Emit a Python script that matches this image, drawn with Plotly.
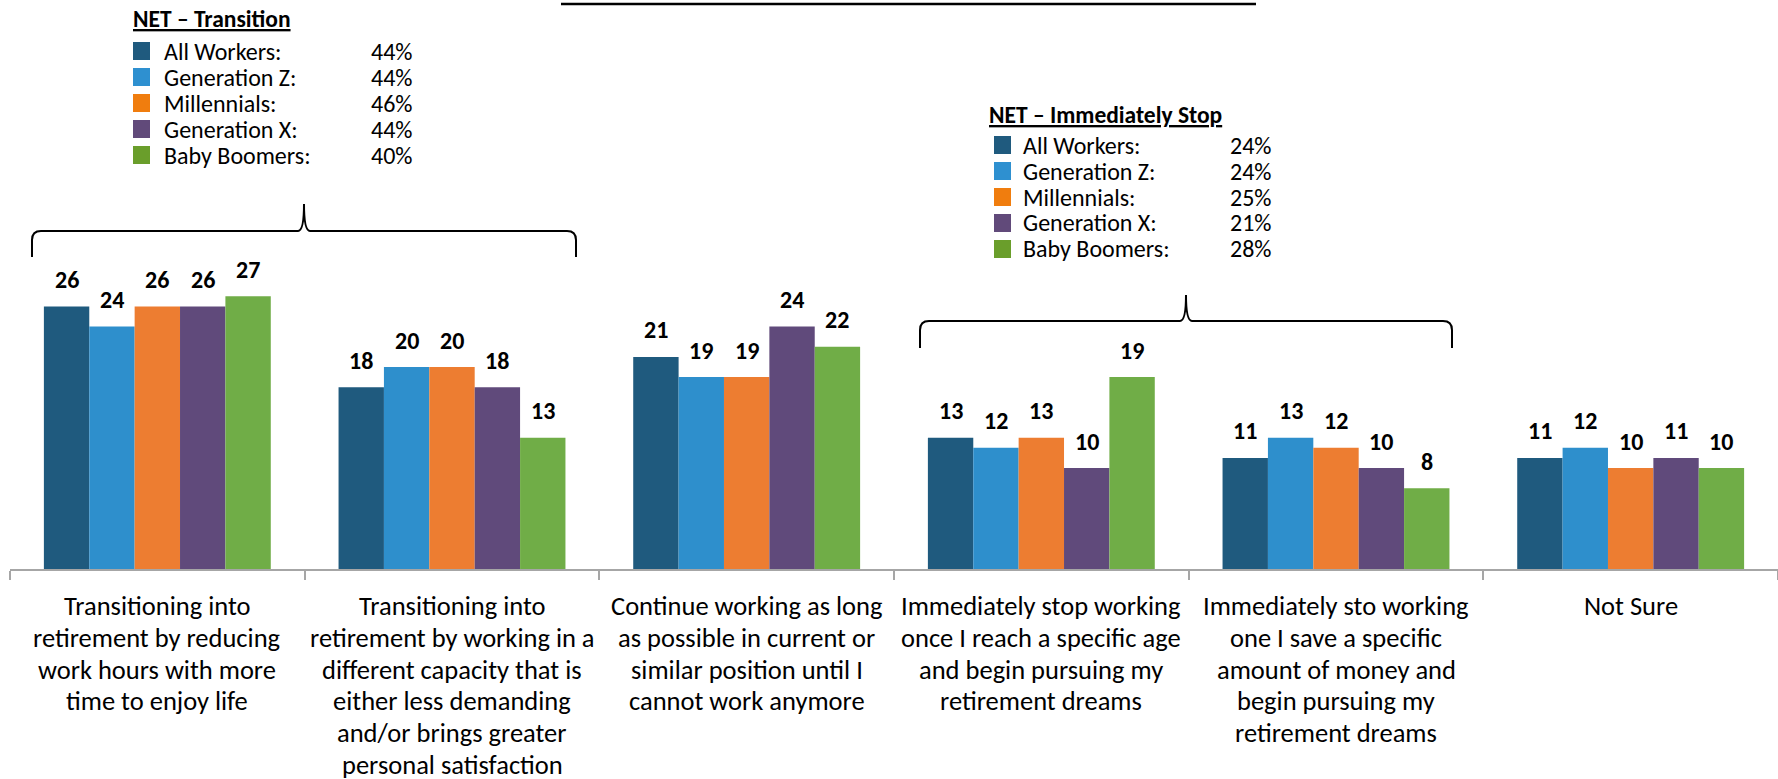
import plotly.graph_objects as go

# ---------------- data ----------------
categories = [
    "Transitioning into<br>retirement by reducing<br>work hours with more<br>time to enjoy life",
    "Transitioning into<br>retirement by working in a<br>different capacity that is<br>either less demanding<br>and/or brings greater<br>personal satisfaction",
    "Continue working as long<br>as possible in current or<br>similar position until I<br>cannot work anymore",
    "Immediately stop working<br>once I reach a specific age<br>and begin pursuing my<br>retirement dreams",
    "Immediately sto working<br>one I save a specific<br>amount of money and<br>begin pursuing my<br>retirement dreams",
    "Not Sure",
]
series_names = ["All Workers", "Generation Z", "Millennials", "Generation X", "Baby Boomers"]
all_workers = [26, 18, 21, 13, 11, 11]
generation_z = [24, 20, 19, 12, 13, 12]
millennials = [26, 20, 19, 13, 12, 10]
generation_x = [26, 18, 24, 10, 10, 11]
baby_boomers = [27, 13, 22, 19, 8, 10]
series_values = [all_workers, generation_z, millennials, generation_x, baby_boomers]

net_transition = [44, 44, 46, 44, 40]
net_immediately_stop = [24, 24, 25, 21, 28]

bar_colors = ["#1F5A7E", "#2E8FCC", "#ED7D31", "#604A7B", "#70AD47"]
legend_colors = ["#1F5A7E", "#2E90D0", "#F07D0E", "#614A7A", "#6A9E2B"]

FONT = "Calibri, Carlito, 'Open Sans', sans-serif"

# ---------------- geometry helpers ----------------
W, H = 1778, 779
ML, MR, MT, MB = 10, 0, 0, 210
PW = W - ML - MR
PH = H - MT - MB
UNIT_PX = 10.1
YMAX = PH / UNIT_PX
BARGAP = 0.23


def px(x):
    return (x - ML) / PW


def py(y):
    return (PH + MT - y) / PH


fig = go.Figure()
for name, vals, col in zip(series_names, series_values, bar_colors):
    fig.add_trace(go.Bar(name=name, x=categories, y=vals,
                         marker=dict(color=col, line=dict(width=0)),
                         showlegend=False, hoverinfo="skip"))

annotations = []
shapes = []

# data labels
n = len(series_names)
bw = (1 - BARGAP) / n
for i, vals in enumerate(series_values):
    for j, v in enumerate(vals):
        annotations.append(dict(
            x=j + (i - (n - 1) / 2) * bw, y=v, xref="x", yref="y",
            text=f"<b>{v}</b>", showarrow=False, yanchor="middle", yshift=27,
            font=dict(family=FONT, size=24, color="#000000")))

# category labels, one annotation per line for exact line spacing
LABEL_TOP = 606
LABEL_STEP = 31.8
for j, cat in enumerate(categories):
    for k, line in enumerate(cat.split("<br>")):
        annotations.append(dict(
            x=j, y=py(LABEL_TOP + k * LABEL_STEP), xref="x", yref="paper",
            text=line, showarrow=False, xanchor="center", yanchor="middle",
            font=dict(family=FONT, size=26.5, color="#000000")))


def add_legend_box(title, values, left, title_y, row_ys, sq_left, label_x, pct_x):
    annotations.append(dict(x=px(left - 2), y=py(title_y), xref="paper", yref="paper",
                            xanchor="left", yanchor="middle", showarrow=False,
                            text=f"<b><u>{title}</u></b>",
                            font=dict(family=FONT, size=23.5, color="#000000")))
    for name, val, col, ry in zip(series_names, values, legend_colors, row_ys):
        shapes.append(dict(type="rect", xref="paper", yref="paper",
                           x0=px(sq_left), x1=px(sq_left + 17),
                           y0=py(ry + 9), y1=py(ry - 9),
                           fillcolor=col, line=dict(width=0)))
        annotations.append(dict(x=px(label_x - 2), y=py(ry), xref="paper", yref="paper",
                                xanchor="left", yanchor="middle", showarrow=False,
                                text=f"{name}:",
                                font=dict(family=FONT, size=24, color="#000000")))
        annotations.append(dict(x=px(pct_x - 2), y=py(ry), xref="paper", yref="paper",
                                xanchor="left", yanchor="middle", showarrow=False,
                                text=f"{val}%",
                                font=dict(family=FONT, size=24, color="#000000")))


add_legend_box("NET \u2013 Transition", net_transition, 133, 19,
               [51, 77, 103, 129, 155], 133, 164, 371)
add_legend_box("NET \u2013 Immediately Stop", net_immediately_stop, 989, 115,
               [145, 171, 197, 223, 249], 994, 1023, 1230)


def brace(left, right, horiz, bottom, peak):
    mid = (left + right) / 2
    r = 9
    pts = [
        ("M", [(left, bottom)]),
        ("L", [(left, horiz + r)]),
        ("Q", [(left, horiz), (left + r, horiz)]),
        ("L", [(mid - 6, horiz)]),
        ("Q", [(mid, horiz), (mid, peak)]),
        ("Q", [(mid, horiz), (mid + 6, horiz)]),
        ("L", [(right - r, horiz)]),
        ("Q", [(right, horiz), (right, horiz + r)]),
        ("L", [(right, bottom)]),
    ]
    path = ""
    for cmd, coords in pts:
        path += cmd + " " + " ".join(f"{px(x):.5f},{py(y):.5f}" for x, y in coords) + " "
    shapes.append(dict(type="path", xref="paper", yref="paper", path=path.strip(),
                       line=dict(color="#000000", width=2)))


brace(32, 576, 231, 257, 204)
brace(920, 1452, 321, 348, 295)

# cut-off title underline at the very top
shapes.append(dict(type="line", xref="paper", yref="paper",
                   x0=px(561), x1=px(1256), y0=py(4), y1=py(4),
                   line=dict(color="#000000", width=2.5)))

fig.update_layout(
    width=W, height=H,
    margin=dict(l=ML, r=MR, t=MT, b=MB, pad=0),
    paper_bgcolor="#FFFFFF", plot_bgcolor="#FFFFFF",
    barmode="group", bargap=BARGAP, bargroupgap=0,
    annotations=annotations, shapes=shapes,
    xaxis=dict(
        type="category",
        range=[-0.5, len(categories) - 0.5],
        showline=True, linecolor="#A6A6A6", linewidth=1.5,
        ticks="outside", ticklen=9, tickcolor="#A6A6A6", tickwidth=1.5,
        tickson="boundaries", showticklabels=False,
        showgrid=False, zeroline=False,
    ),
    yaxis=dict(range=[0, YMAX], visible=False, showgrid=False, zeroline=False),
    font=dict(family=FONT, color="#000000"),
)

fig.write_html("out.html",
               config={"displayModeBar": False},
               post_script="document.body.style.margin='0px';document.body.style.overflow='hidden';")
